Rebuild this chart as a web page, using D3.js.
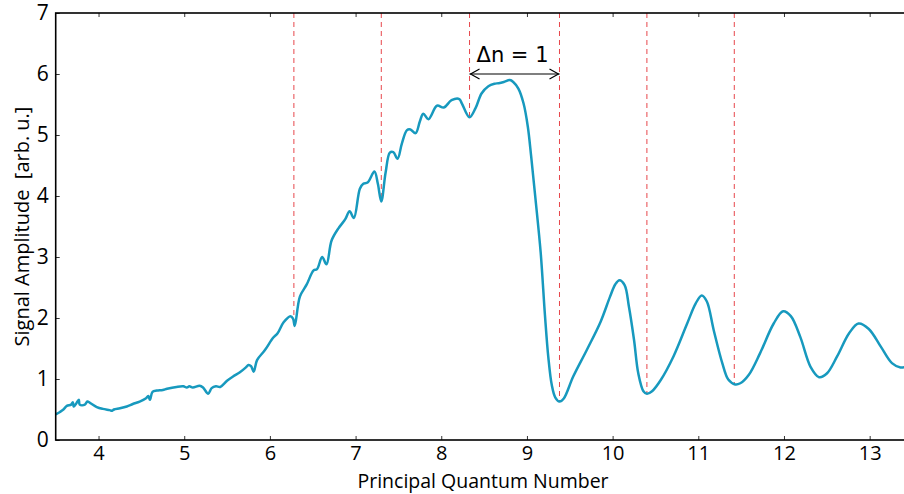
<!DOCTYPE html>
<html>
<head>
<meta charset="utf-8">
<script src="https://cdn.jsdelivr.net/npm/d3@7"></script>
<style>
  html, body { margin: 0; padding: 0; background: #fff; }
  svg { display: block; overflow: hidden; }
  .tick text { font-family: "Open Sans", "Noto Sans", sans-serif; fill: #000; }
</style>
</head>
<body>
<svg id="chart" width="904" height="494"></svg>
<script>
// Principal quantum number (x) and measured signal amplitude (y)
const n = [3.50, 3.55, 3.59, 3.63, 3.68, 3.70, 3.71, 3.74, 3.77, 3.78, 3.84, 3.87, 3.90, 3.98, 4.05, 4.13, 4.16, 4.18, 4.25, 4.33,
  4.40, 4.48, 4.55, 4.58, 4.60, 4.63, 4.68, 4.75, 4.80, 4.91, 4.99, 5.03, 5.06, 5.10, 5.18, 5.22, 5.28, 5.32, 5.37, 5.42,
  5.50, 5.57, 5.65, 5.72, 5.75, 5.78, 5.81, 5.85, 5.94, 6.04, 6.09, 6.16, 6.24, 6.27, 6.29, 6.35, 6.43, 6.51, 6.55, 6.61,
  6.66, 6.72, 6.80, 6.88, 6.93, 6.98, 7.05, 7.09, 7.14, 7.22, 7.26, 7.30, 7.35, 7.40, 7.44, 7.49, 7.54, 7.60, 7.64, 7.70,
  7.75, 7.79, 7.85, 7.95, 8.03, 8.12, 8.21, 8.24, 8.33, 8.40, 8.47, 8.55, 8.62, 8.67, 8.73, 8.80, 8.84, 8.90, 8.96, 9.01,
  9.05, 9.10, 9.16, 9.21, 9.25, 9.29, 9.33, 9.38, 9.43, 9.54, 9.70, 9.86, 9.97, 10.03, 10.08, 10.14, 10.19, 10.25, 10.30, 10.36, 10.40,
  10.46, 10.56, 10.71, 10.87, 10.97, 11.04, 11.10, 11.18, 11.28, 11.35, 11.43, 11.49, 11.59, 11.72, 11.88, 11.99, 12.08, 12.19, 12.31, 12.41,
  12.50, 12.62, 12.76, 12.87, 12.99, 13.13, 13.26, 13.36, 13.45];
const amplitude = [0.42, 0.46, 0.50, 0.56, 0.58, 0.62, 0.55, 0.60, 0.66, 0.58, 0.58, 0.63, 0.61, 0.54, 0.51, 0.49, 0.48, 0.50, 0.52, 0.55,
  0.59, 0.63, 0.68, 0.72, 0.66, 0.79, 0.81, 0.82, 0.84, 0.87, 0.88, 0.86, 0.88, 0.86, 0.89, 0.86, 0.76, 0.85, 0.88, 0.87,
  0.97, 1.04, 1.11, 1.19, 1.23, 1.21, 1.12, 1.31, 1.47, 1.68, 1.75, 1.93, 2.03, 1.99, 1.87, 2.35, 2.55, 2.78, 2.80, 3.00,
  2.88, 3.27, 3.47, 3.62, 3.75, 3.64, 4.12, 4.20, 4.22, 4.40, 4.20, 3.91, 4.38, 4.71, 4.72, 4.61, 4.86, 5.08, 5.09, 5.03,
  5.22, 5.35, 5.26, 5.48, 5.45, 5.57, 5.59, 5.52, 5.29, 5.44, 5.68, 5.80, 5.84, 5.85, 5.87, 5.90, 5.87, 5.76, 5.52, 5.14,
  4.64, 3.95, 3.08, 2.05, 1.35, 0.90, 0.70, 0.63, 0.68, 1.04, 1.48, 1.94, 2.35, 2.55, 2.62, 2.54, 2.19, 1.64, 1.09, 0.80, 0.76,
  0.80, 0.98, 1.37, 1.91, 2.24, 2.37, 2.27, 1.80, 1.26, 0.99, 0.91, 0.93, 1.07, 1.42, 1.91, 2.11, 2.03, 1.69, 1.20, 1.03,
  1.09, 1.37, 1.75, 1.91, 1.82, 1.53, 1.26, 1.19, 1.21];

// Dashed guide lines at the successive minima (n position, amplitude where each line stops)
const markerN = [6.28, 7.30, 8.33, 9.38, 10.40, 11.42];
const markerAmp = [1.87, 3.91, 5.29, 0.63, 0.76, 0.91];

// Spacing annotation
const spanStart = 8.33, spanEnd = 9.38, spanLevel = 6.0;
const spanLabel = "\u0394n = 1";

const xTicks = [4, 5, 6, 7, 8, 9, 10, 11, 12, 13];
const yTicks = [0, 1, 2, 3, 4, 5, 6, 7];

const svg = d3.select("#chart");
const plotLeft = 55.7, plotRight = 912.5, plotTop = 13, plotBottom = 440;

const x = d3.scaleLinear().domain([3.5, 13.5]).range([plotLeft, plotRight]);
const y = d3.scaleLinear().domain([0, 7]).range([plotBottom, plotTop]);

// clip the data to the axes box
svg.append("defs").append("clipPath").attr("id", "plotClip")
  .append("rect").attr("x", plotLeft).attr("y", plotTop)
  .attr("width", plotRight - plotLeft).attr("height", plotBottom - plotTop);

const plot = svg.append("g").attr("clip-path", "url(#plotClip)");

// dashed red guides from the top of the axes down to each minimum
plot.selectAll("line.guide")
  .data(markerN.map((v, i) => ({ n: v, a: markerAmp[i] })))
  .join("line")
  .attr("class", "guide")
  .attr("x1", d => x(d.n)).attr("x2", d => x(d.n))
  .attr("y1", y(7)).attr("y2", d => y(d.a))
  .attr("stroke", "#e3262b")
  .attr("stroke-opacity", 0.85)
  .attr("stroke-width", 1)
  .attr("stroke-dasharray", "5,4");

// signal curve
const points = n.map((v, i) => [v, amplitude[i]]);
plot.append("path")
  .datum(points)
  .attr("fill", "none")
  .attr("stroke", "#1799be")
  .attr("stroke-width", 2.5)
  .attr("stroke-linejoin", "round")
  .attr("d", d3.line().x(d => x(d[0])).y(d => y(d[1])).curve(d3.curveCatmullRom.alpha(0.5)));

// double-headed arrow marking one unit of n
const ay = y(spanLevel), ax1 = x(spanStart), ax2 = x(spanEnd);
const arrow = svg.append("g").attr("stroke", "#000").attr("stroke-width", 1.2).attr("fill", "none");
arrow.append("line").attr("x1", ax1).attr("x2", ax2).attr("y1", ay).attr("y2", ay);
arrow.append("path").attr("d", `M${ax1 + 10},${ay - 5}L${ax1 + 1},${ay}L${ax1 + 10},${ay + 5}`);
arrow.append("path").attr("d", `M${ax2 - 10},${ay - 5}L${ax2 - 1},${ay}L${ax2 - 10},${ay + 5}`);
svg.append("text")
  .attr("x", (ax1 + ax2) / 2 - 2).attr("y", ay - 12)
  .attr("text-anchor", "middle")
  .attr("font-family", "DejaVu Sans, sans-serif")
  .attr("font-size", 21)
  .text(spanLabel);

// axes with inward ticks on all four sides
const gx = svg.append("g").attr("transform", `translate(0,${plotBottom})`)
  .call(d3.axisBottom(x).tickValues(xTicks).tickSizeInner(-4).tickSizeOuter(0).tickPadding(6).tickFormat(d3.format("d")));
gx.selectAll(".tick text").attr("font-size", 20);
const gy = svg.append("g").attr("transform", `translate(${plotLeft},0)`)
  .call(d3.axisLeft(y).tickValues(yTicks).tickSizeInner(-4).tickSizeOuter(0).tickPadding(7).tickFormat(d3.format("d")));
gy.selectAll(".tick text").attr("font-size", 21);
svg.append("g").attr("transform", `translate(0,${plotTop})`)
  .call(d3.axisTop(x).tickValues(xTicks).tickSizeInner(-4).tickSizeOuter(0).tickFormat(""));
svg.append("g").attr("transform", `translate(${plotRight},0)`)
  .call(d3.axisRight(y).tickValues(yTicks).tickSizeInner(-4).tickSizeOuter(0).tickFormat(""));
svg.selectAll(".domain").remove();
svg.selectAll(".tick line").attr("stroke", "#000").attr("stroke-width", 0.8);

// axes frame
svg.append("rect")
  .attr("x", plotLeft).attr("y", plotTop).attr("width", plotRight - plotLeft).attr("height", plotBottom - plotTop)
  .attr("fill", "none").attr("stroke", "#000").attr("stroke-width", 1.6);

// axis titles
svg.append("text")
  .attr("x", 483).attr("y", 488)
  .attr("text-anchor", "middle")
  .attr("font-family", "Open Sans, Noto Sans, sans-serif")
  .attr("font-size", 19.5)
  .text("Principal Quantum Number");
svg.append("text")
  .attr("transform", `translate(29,${(plotTop + plotBottom) / 2}) rotate(-90)`)
  .attr("text-anchor", "middle")
  .attr("font-family", "Open Sans, Noto Sans, sans-serif")
  .attr("font-size", 20)
  .style("white-space", "pre")
  .text("Signal Amplitude  [arb. u.]");
</script>
</body>
</html>
